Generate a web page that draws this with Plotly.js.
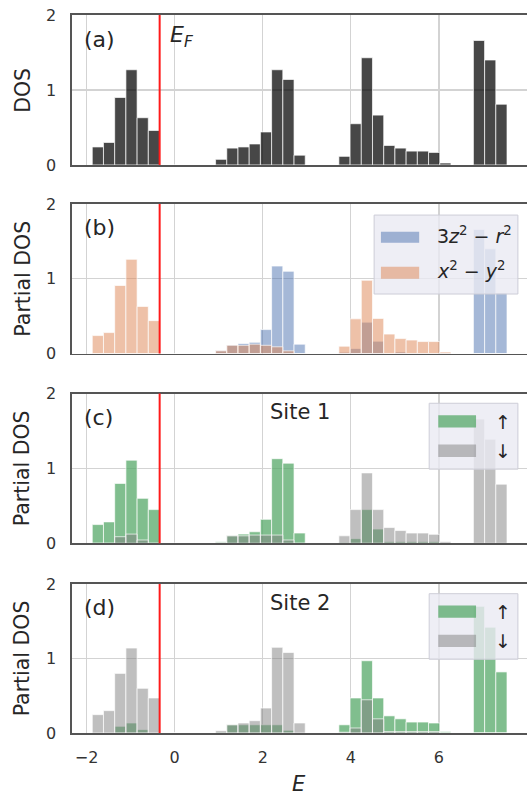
<!DOCTYPE html>
<html>
<head>
<meta charset="utf-8">
<script src="https://cdn.plot.ly/plotly-3.0.1.min.js"></script>
<style>
html,body{margin:0;padding:0;overflow:hidden;background:#fff;}
#chart{width:527px;height:795px;}
</style>
</head>
<body>
<div id="chart"></div>
<script>
// ---- data ----
const binCenters = [-1.743,-1.488,-1.234,-0.979,-0.725,-0.470,-0.216,0.039,0.293,0.548,0.802,
  1.057,1.311,1.566,1.820,2.075,2.329,2.584,2.838,3.093,3.347,3.602,
  3.856,4.111,4.365,4.620,4.874,5.129,5.383,5.638,5.892,6.147,6.401,6.656,6.910,7.165,7.419];

const totalDOS = [0.24,0.30,0.90,1.27,0.63,0.46,0,0,0,0,0,
  0.075,0.225,0.24,0.28,0.44,1.27,1.14,0.13,0,0,0,
  0.115,0.55,1.43,0.665,0.26,0.225,0.185,0.185,0.167,0.026,0,0,1.66,1.40,0.81];

const pdosZ2 = [0,0,0,0,0,0,0,0,0,0,0,
  0.04,0.115,0.134,0.15,0.32,1.17,1.10,0.125,0,0,0,
  0.017,0.067,0.42,0.165,0,0.02,0.005,0.005,0.005,0.006,0,0,1.66,1.40,0.81];
const pdosX2 = [0.24,0.28,0.91,1.26,0.63,0.44,0,0,0,0,0,
  0.036,0.11,0.11,0.125,0.11,0.09,0.036,0,0,0,0,
  0.098,0.464,0.98,0.47,0.26,0.20,0.18,0.16,0.16,0.02,0,0,0,0,0];

const site1Up = [0.25,0.286,0.80,1.11,0.60,0.45,0,0,0,0,0,
  0.022,0.10,0.123,0.154,0.32,1.13,1.07,0.137,0,0,0,
  0.01,0.062,0.45,0.19,0.02,0.02,0.02,0.02,0.02,0.005,0,0,0,0,0];
const site1Down = [0,0,0.088,0.123,0.044,0,0,0,0,0,0,
  0.01,0.10,0.10,0.11,0.11,0.11,0.044,0,0,0,0,
  0.10,0.45,0.94,0.45,0.21,0.17,0.137,0.137,0.12,0.02,0,0,1.66,1.39,0.79];

const site2Up = [0,0,0.09,0.134,0.045,0,0,0,0,0,0,
  0.01,0.11,0.11,0.11,0.11,0.11,0.036,0,0,0,0,
  0.11,0.47,0.97,0.47,0.23,0.19,0.147,0.147,0.134,0.02,0,0,1.70,1.42,0.82];
const site2Down = [0.246,0.30,0.80,1.14,0.60,0.47,0,0,0,0,0,
  0.03,0.11,0.134,0.165,0.335,1.15,1.08,0.134,0,0,0,
  0.01,0.067,0.446,0.19,0.02,0.02,0.02,0.02,0.02,0,0,0,0,0,0];

const fermiLevel = -0.34;
const xTickVals = [-2,0,2,4,6];
const yTickVals = [0,1,2];
const xRange = [-2.33,8.0];
const yRange = [0,2];
const panelLabels = ['(a)','(b)','(c)','(d)'];
const yTitles = ['DOS','Partial DOS','Partial DOS','Partial DOS'];
const siteLabels = ['Site 1','Site 2'];
const orbitalNames = ['3<i>z</i><sup>2</sup> − <i>r</i><sup>2</sup>','<i>x</i><sup>2</sup> − <i>y</i><sup>2</sup>'];
const spinNames = ['↑','↓'];
const xTitle = '<i>E</i>';
const fermiLabel = '<i>E<sub>F</sub></i>';

// ---- style ----
const FONT = 'DejaVu Sans, Liberation Sans, sans-serif';
const TXT = '#262626';
const C_TOTAL = 'rgba(0,0,0,0.72)';
const C_BLUE = 'rgba(76,114,176,0.5)';
const C_ORANGE = 'rgba(221,132,82,0.5)';
const C_GREEN = 'rgba(85,168,104,0.75)';
const C_GRAY = 'rgba(128,128,128,0.5)';
const EDGE = {color:'rgba(255,255,255,0.85)', width:0.8};
const GRID = '#d3d3d3';

function barTrace(y, color, n){
  const s = n===1 ? '' : String(n);
  return {type:'bar', x:binCenters, y:y, xaxis:'x'+s, yaxis:'y'+s,
    marker:{color:color, line:EDGE}, showlegend:false, hoverinfo:'skip'};
}

const data = [
  barTrace(totalDOS, C_TOTAL, 1),
  barTrace(pdosZ2, C_BLUE, 2),
  barTrace(pdosX2, C_ORANGE, 2),
  barTrace(site1Up, C_GREEN, 3),
  barTrace(site1Down, C_GRAY, 3),
  barTrace(site2Up, C_GREEN, 4),
  barTrace(site2Down, C_GRAY, 4)
];

// panel domains (paper fractions), top to bottom
const domains = [[0.7925,0.9811],[0.5553,0.7434],[0.3166,0.5050],[0.0780,0.2654]];

const layout = {
  width:527, height:795,
  margin:{l:72, r:0, t:0, b:0},
  paper_bgcolor:'#fff', plot_bgcolor:'#fff',
  barmode:'overlay', bargap:0,
  font:{family:FONT, color:TXT, size:16},
  showlegend:false,
  shapes:[], annotations:[]
};

for(let i=0;i<4;i++){
  const s = i===0 ? '' : String(i+1);
  layout['xaxis'+s] = {
    domain:[0,1], anchor:'y'+s, range:xRange, fixedrange:true,
    tickvals:xTickVals, showticklabels:(i===3), ticks:'',
    ticklabelstandoff:9,
    tickfont:{family:FONT, size:16, color:'#333'},
    showgrid:true, gridcolor:GRID, gridwidth:1.3, zeroline:false,
    showline:true, mirror:true, linecolor:'#555', linewidth:1.6
  };
  layout['yaxis'+s] = {
    domain:domains[i], anchor:'x'+s, range:yRange, fixedrange:true,
    tickvals:yTickVals, ticks:'', ticklabelstandoff:11,
    tickfont:{family:FONT, size:16, color:'#333'},
    showgrid:true, gridcolor:GRID, gridwidth:1.3, zeroline:false,
    showline:true, mirror:false, linecolor:'#555', linewidth:1.6
  };
  // Fermi level line
  layout.shapes.push({type:'line', xref:'x'+s, yref:'y'+s+' domain',
    x0:fermiLevel, x1:fermiLevel, y0:0, y1:1, layer:'above',
    line:{color:'#ff1a1a', width:2}});
  // panel label
  layout.annotations.push({xref:'x'+s+' domain', yref:'y'+s+' domain',
    x:0.022, y:0.84, xanchor:'left', yanchor:'middle', showarrow:false,
    text:panelLabels[i], font:{family:FONT, size:22, color:TXT}});
  // y title
  layout.annotations.push({xref:'paper', yref:'y'+s+' domain',
    x:-0.108, y:0.5, xanchor:'center', yanchor:'middle', showarrow:false,
    textangle:-90, text:yTitles[i], font:{family:FONT, size:20.5, color:TXT}});
}

// E_F label
layout.annotations.push({xref:'x domain', yref:'y domain', x:0.212, y:0.855,
  xanchor:'left', yanchor:'middle', showarrow:false, text:fermiLabel,
  font:{family:FONT, size:22, color:TXT}});

// x title
layout.annotations.push({xref:'paper', yref:'paper', x:0.499, y:0.014,
  xanchor:'center', yanchor:'middle', showarrow:false, text:xTitle,
  font:{family:FONT, size:21, color:TXT}});

// site labels
['3','4'].forEach((s,k)=>{
  layout.annotations.push({xref:'x'+s+' domain', yref:'y'+s+' domain', x:0.5, y:0.875,
    xanchor:'center', yanchor:'middle', showarrow:false, text:siteLabels[k],
    font:{family:FONT, size:21, color:TXT}});
});

// legend boxes (drawn as shapes + text)
const LEG_BG = 'rgba(234,234,242,0.8)';
const LEG_EDGE = 'rgba(205,205,215,1)';
function box(s, x0,x1,y0,y1, fill, edge){
  layout.shapes.push({type:'rect', xref:'x'+s+' domain', yref:'y'+s+' domain',
    x0:x0,x1:x1,y0:y0,y1:y1, layer:'above', fillcolor:fill,
    line:{color:edge||'rgba(0,0,0,0)', width:edge?1:0}});
}
// (b) orbital legend
box('2', 0.664,0.980,0.398,0.926, LEG_BG, LEG_EDGE);
box('2', 0.679,0.763,0.741,0.815, C_BLUE);
box('2', 0.679,0.763,0.500,0.581, C_ORANGE);
[[0.793,0],[0.559,1]].forEach(([yy,k])=>{
  layout.annotations.push({xref:'x2 domain', yref:'y2 domain', x:0.798, y:yy,
    xanchor:'left', yanchor:'middle', showarrow:false, text:orbitalNames[k],
    font:{family:FONT, size:19, color:TXT}});
});
// (c),(d) spin legends
['3','4'].forEach(s=>{
  box(s, 0.785,0.980,0.495,0.935, LEG_BG, LEG_EDGE);
  box(s, 0.805,0.888,0.773,0.855, C_GREEN);
  box(s, 0.805,0.888,0.577,0.660, C_GRAY);
  [[0.81,0],[0.615,1]].forEach(([yy,k])=>{
    layout.annotations.push({xref:'x'+s+' domain', yref:'y'+s+' domain', x:0.947, y:yy,
      xanchor:'center', yanchor:'middle', showarrow:false, text:spinNames[k],
      font:{family:FONT, size:19, color:TXT}});
  });
});

Plotly.newPlot('chart', data, layout, {displayModeBar:false, staticPlot:true});
</script>
</body>
</html>
